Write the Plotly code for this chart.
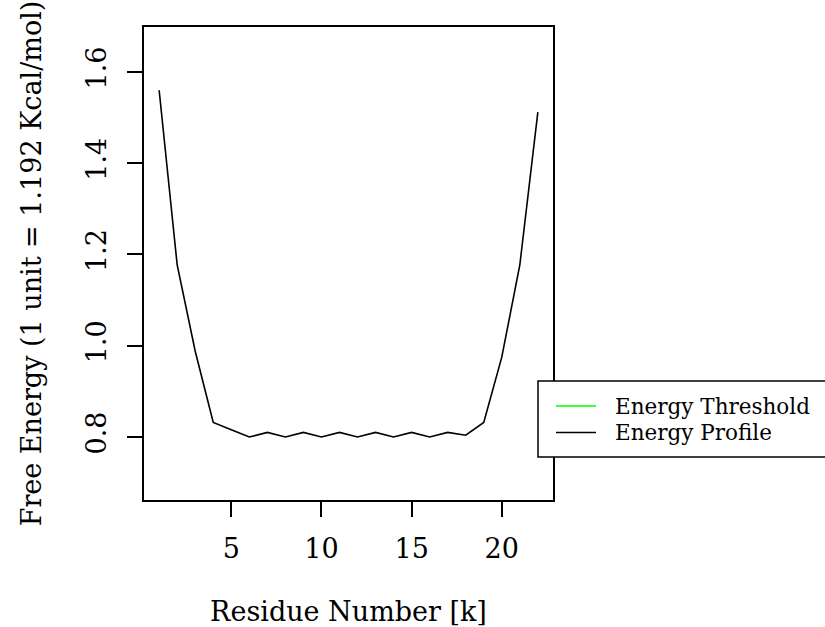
import plotly.graph_objects as go

residue = list(range(1, 23))
energy = [1.56, 1.177, 0.988, 0.832, 0.816, 0.80, 0.81, 0.80, 0.81, 0.80, 0.81,
          0.80, 0.81, 0.80, 0.81, 0.80, 0.81, 0.804, 0.832, 0.975, 1.177, 1.512]
x_ticks = [5, 10, 15, 20]
y_ticks = [0.8, 1.0, 1.2, 1.4, 1.6]
y_tick_text = ["0.8", "1.0", "1.2", "1.4", "1.6"]
legend_labels = ["Energy Threshold", "Energy Profile"]
legend_colors = ["#00ff00", "#000000"]

W, H = 825, 627
L, R, T, B = 144, 553, 27, 500
FONT = "DejaVu Serif"
AX_SIZE = 27


def px(p):
    return (p - L) / (R - L)


def py(p):
    return (B - p) / (B - T)


fig = go.Figure()
fig.add_trace(go.Scatter(x=residue, y=energy, mode="lines",
                         line=dict(color="black", width=1.6),
                         name="Energy Profile", showlegend=False,
                         hoverinfo="x+y"))

axis_common = dict(showline=True, linecolor="black", linewidth=1.5, mirror=True,
                   ticks="outside", ticklen=15, tickwidth=1.5, tickcolor="black",
                   showgrid=False, zeroline=False,
                   tickfont=dict(family=FONT, size=AX_SIZE, color="black"))

fig.update_xaxes(range=[0.16, 22.84], tickvals=x_ticks, ticklabelstandoff=9,
                 title=dict(text="Residue Number [k]", standoff=40,
                            font=dict(family=FONT, size=AX_SIZE, color="black")),
                 **axis_common)
fig.update_yaxes(range=[0.6619, 1.6986], tickvals=y_ticks, ticktext=y_tick_text,
                 tickangle=-90, ticklabelstandoff=10,
                 title=dict(text="Free Energy (1 unit = 1.192 Kcal/mol)", standoff=32,
                            font=dict(family=FONT, size=AX_SIZE, color="black")),
                 **axis_common)

# legend box (R-style, partly clipped at right edge)
fig.add_shape(type="rect", xref="paper", yref="paper",
              x0=px(538), x1=px(840), y0=py(457), y1=py(381),
              line=dict(color="black", width=1.5), fillcolor="white")
for i, (lab, col) in enumerate(zip(legend_labels, legend_colors)):
    yy = 406 + i * 26.5
    fig.add_shape(type="line", xref="paper", yref="paper",
                  x0=px(556), x1=px(596), y0=py(yy), y1=py(yy),
                  line=dict(color=col, width=1.6))
    fig.add_annotation(xref="paper", yref="paper", x=px(613), y=py(yy),
                       text=lab, showarrow=False, xanchor="left", yanchor="middle",
                       font=dict(family=FONT, size=21.5, color="black"))

fig.update_layout(width=W, height=H,
                  margin=dict(l=L, r=W - R, t=T, b=H - B, autoexpand=False),
                  paper_bgcolor="white", plot_bgcolor="white", showlegend=False)

fig.write_html("out.html", config={"displayModeBar": False},
               post_script="document.body.style.margin='0px';document.body.style.padding='0px';")
